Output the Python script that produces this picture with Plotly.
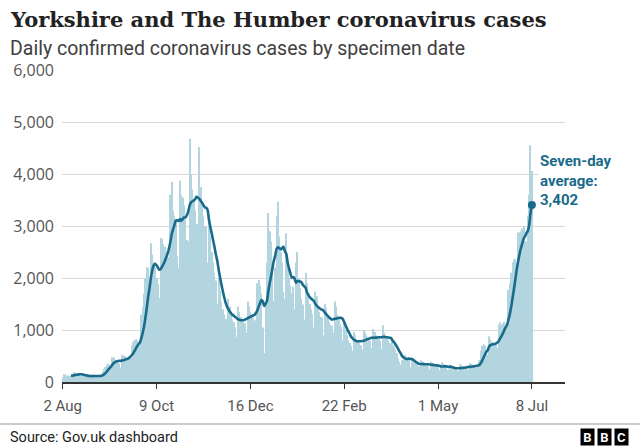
import pandas as pd
import plotly.graph_objects as go

# ---- data -------------------------------------------------------------
start_date = "2020-08-02"

# daily confirmed cases by specimen date, one row per week (Sun..Sat)
daily_cases = [
    90, 150, 140, 125, 120, 115, 100,
    110, 190, 175, 160, 150, 140, 125,
    95, 140, 130, 120, 110, 105, 105,
    85, 140, 135, 120, 115, 110, 100,
    130, 200, 250, 290, 330, 350, 330,
    300, 480, 470, 430, 420, 410, 360,
    280, 520, 510, 500, 470, 480, 460,
    480, 700, 760, 800, 820, 800, 750,
    700, 1300, 1450, 1700, 2000, 2200, 2200,
    1900, 2670, 2450, 2300, 2200, 2000, 1880,
    1620, 2770, 2750, 2650, 2600, 2500, 2400,
    2300, 3600, 3850, 3300, 3200, 3100, 2420,
    2200, 3870, 3600, 3550, 3400, 3120, 2730,
    2700, 4680, 4000, 3700, 3500, 3300, 3040,
    2600, 4520, 3750, 3400, 3200, 3000, 2980,
    2300, 3200, 2800, 2500, 2300, 2100, 1950,
    1500, 2000, 1750, 1550, 1400, 1300, 1210,
    1000, 1600, 1450, 1300, 1200, 1150, 1050,
    870, 1450, 1350, 1250, 1200, 1150, 1130,
    950, 1550, 1450, 1350, 1300, 1250, 1180,
    1200, 1900, 1960, 1850, 1700, 1050, 560,
    1500, 2300, 3250, 2900, 2700, 2100, 1560,
    2200, 3200, 3470, 2800, 2500, 2300, 1730,
    1600, 2860, 2300, 2000, 1850, 1700, 1830,
    1400, 2300, 2500, 2000, 1800, 1600, 1490,
    1200, 2100, 1900, 1650, 1500, 1400, 1310,
    1050, 1740, 1650, 1450, 1350, 1250, 1240,
    900, 1500, 1420, 1250, 1150, 1100, 1080,
    950, 1550, 1450, 1300, 1200, 1100, 1060,
    800, 1150, 1000, 900, 800, 750, 690,
    600, 960, 900, 800, 780, 750, 705,
    620, 1000, 950, 900, 850, 800, 795,
    650, 1020, 960, 900, 870, 830, 790,
    640, 1090, 950, 880, 840, 800, 750,
    600, 800, 700, 620, 560, 450, 390,
    330, 420, 520, 520, 480, 450, 430,
    280, 430, 400, 370, 340, 320, 310,
    260, 420, 390, 360, 330, 320, 300,
    240, 390, 370, 330, 310, 290, 275,
    230, 280, 380, 340, 310, 290, 235,
    200, 330, 310, 280, 260, 240, 221,
    210, 340, 330, 300, 290, 270, 255,
    230, 360, 350, 330, 320, 300, 266,
    300, 420, 600, 700, 720, 690, 630,
    520, 880, 820, 780, 760, 720, 700,
    650, 1100, 1150, 1100, 1120, 1160, 1070,
    1000, 1770, 1900, 2100, 2300, 2350, 2370,
    2300, 2870, 2880, 2900, 2950, 3000, 2700,
    2700, 3200, 3600, 4554, 4060,
]

tick_dates = ["2020-08-02", "2020-10-09", "2020-12-16", "2021-02-22", "2021-05-01", "2021-07-08"]
tick_labels = ["2 Aug", "9 Oct", "16 Dec", "22 Feb", "1 May", "8 Jul"]
y_ticks = [0, 1000, 2000, 3000, 4000, 5000, 6000]

# ---- derived ----------------------------------------------------------
dates = pd.date_range(start_date, periods=len(daily_cases), freq="D")
series = pd.Series(daily_cases, index=dates)
avg7 = series.rolling(7).mean()

BAR = "#b3d5df"
LINE = "#1a6b8b"
GRID = "#d9d9d9"
TXT = "#555555"

fig = go.Figure()
fig.add_trace(go.Bar(
    x=dates, y=series.values, marker_color=BAR, marker_line_width=0,
    width=1000 * 3600 * 24 * 0.75, hoverinfo="skip",
))
fig.add_trace(go.Scatter(
    x=avg7.index, y=avg7.values, mode="lines",
    line=dict(color=LINE, width=2.6, shape="spline", smoothing=0.7),
    hoverinfo="skip",
))
fig.add_trace(go.Scatter(
    x=[avg7.index[-1]], y=[avg7.values[-1]], mode="markers",
    marker=dict(color=LINE, size=8), hoverinfo="skip",
))

L, R, T, B = 62, 75, 70, 65
W, H = 640, 447
pw, ph = W - L - R, H - T - B


def px_x(px):
    return (px - L) / pw


def px_y(py):
    return (H - B - py) / ph


fig.update_layout(
    width=W, height=H,
    margin=dict(l=L, r=R, t=T, b=B),
    plot_bgcolor="white", paper_bgcolor="white",
    showlegend=False, bargap=0.15,
    font=dict(family="Roboto, 'Noto Sans', sans-serif", color=TXT),
    xaxis=dict(
        type="date",
        range=["2020-08-01 12:00", "2021-08-01"],
        tickvals=tick_dates, ticktext=tick_labels,
        ticks="outside", ticklen=5, tickcolor="#333333", tickwidth=1,
        showline=True, linecolor="#333333", linewidth=1.5,
        showgrid=False, zeroline=False,
        tickfont=dict(size=15, color=TXT),
        ticklabelstandoff=4,
        fixedrange=True,
    ),
    yaxis=dict(
        range=[0, 6000], tickvals=y_ticks, tickformat=",",
        showgrid=True, gridcolor=GRID, gridwidth=1,
        zeroline=False, showline=False, ticks="",
        tickfont=dict(size=16, color=TXT, family="Open Sans"),
        ticklabelstandoff=7,
        fixedrange=True,
    ),
)

annotations = [
    dict(text="<b>Yorkshire and The Humber coronavirus cases</b>",
         x=px_x(8), y=px_y(20), xanchor="left", yanchor="middle",
         font=dict(family="DejaVu Serif", size=21, color="#222222"),
         showarrow=False, xref="paper", yref="paper"),
    dict(text="Daily confirmed coronavirus cases by specimen date",
         x=px_x(8), y=px_y(48), xanchor="left", yanchor="middle",
         font=dict(family="Roboto", size=19.5, color="#404040"),
         showarrow=False, xref="paper", yref="paper"),
    dict(text="Source: Gov.uk dashboard",
         x=px_x(8), y=px_y(437), xanchor="left", yanchor="middle",
         font=dict(family="Roboto", size=14.5, color="#222222"),
         showarrow=False, xref="paper", yref="paper"),
    dict(text="<b>Seven-day<br>average:<br>3,402</b>",
         x=px_x(538), y=px_y(180), xanchor="left", yanchor="middle", align="left",
         font=dict(family="Roboto", size=15, color=LINE),
         bgcolor="white", borderpad=1,
         showarrow=False, xref="paper", yref="paper"),
]
for i, letter in enumerate(["B", "B", "C"]):
    annotations.append(dict(
        text="<b>%s</b>" % letter, x=px_x(587 + i * 17), y=px_y(437),
        xanchor="center", yanchor="middle",
        font=dict(family="Roboto", size=13, color="white"),
        bgcolor="black", width=13, height=16, borderpad=0,
        showarrow=False, xref="paper", yref="paper"))
fig.update_layout(annotations=annotations)

fig.add_shape(type="line", xref="paper", yref="paper",
              x0=px_x(0), x1=px_x(640), y0=px_y(424), y1=px_y(424),
              line=dict(color="#999999", width=1))

fig.write_html("out.html")
